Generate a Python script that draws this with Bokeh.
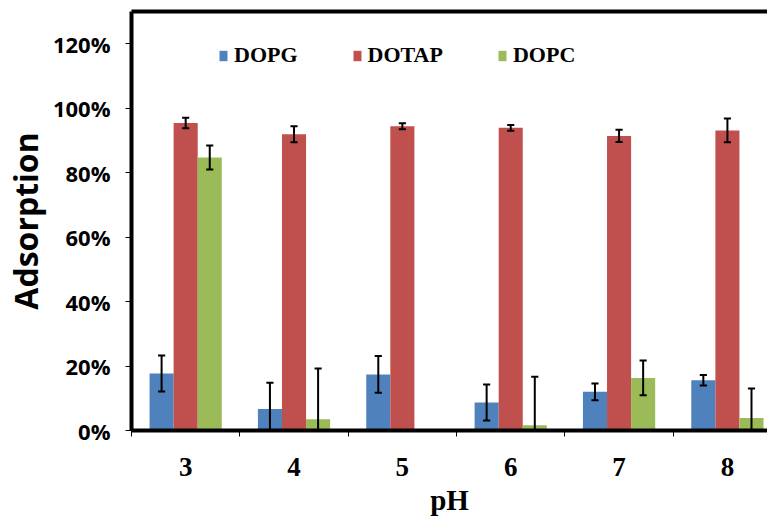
import numpy as np
from bokeh.plotting import figure
from bokeh.models import (Range1d, LinearAxis, FixedTicker, Legend, LegendItem,
                          NumeralTickFormatter)
from bokeh.embed import file_html
from bokeh.resources import INLINE

# ---- data ----
ph_labels = ["3", "4", "5", "6", "7", "8"]
series_names = ["DOPG", "DOTAP", "DOPC"]
dopg = [0.177, 0.067, 0.174, 0.087, 0.120, 0.156]
dopg_err = [0.056, 0.081, 0.057, 0.056, 0.026, 0.016]
dotap = [0.954, 0.919, 0.944, 0.939, 0.914, 0.931]
dotap_err = [0.016, 0.025, 0.009, 0.009, 0.019, 0.037]
dopc = [0.847, 0.035, 0.002, 0.016, 0.163, 0.039]
dopc_err = [0.037, 0.157, 0.0, 0.151, 0.054, 0.091]
y_ticks = [0.0, 0.2, 0.4, 0.6, 0.8, 1.0, 1.2]
colors = ["#4F81BD", "#C0504D", "#9BBB59"]

values = [dopg, dotap, dopc]
errors = [dopg_err, dotap_err, dopc_err]

n = len(ph_labels)
centers = np.arange(n) + 0.5
bar_w = 1 / 4.5
cap_half = 0.033

p = figure(frame_width=636, frame_height=419, output_backend="svg", toolbar_location=None,
           x_range=Range1d(0, 5.87), y_range=Range1d(0, 1.3),
           min_border_left=122, min_border_right=0, min_border_top=11,
           min_border_bottom=80, background_fill_color="white",
           border_fill_color="white")
p.outline_line_color = None
p.xgrid.visible = False
p.ygrid.visible = False

renderers = []
for k in range(3):
    xs = centers + (k - 1) * bar_w
    r = p.vbar(x=xs, top=values[k], width=bar_w, bottom=0,
               fill_color=colors[k], line_color=None)
    renderers.append(r)

for k in range(3):
    xs = centers + (k - 1) * bar_w
    v = np.array(values[k])
    e = np.array(errors[k])
    m = e > 0
    xm, vm, em = xs[m], v[m], e[m]
    p.segment(x0=xm, y0=vm - em, x1=xm, y1=vm + em, line_color="black", line_width=2)
    p.segment(x0=xm - cap_half, y0=vm + em, x1=xm + cap_half, y1=vm + em,
              line_color="black", line_width=2)
    p.segment(x0=xm - cap_half, y0=vm - em, x1=xm + cap_half, y1=vm - em,
              line_color="black", line_width=2)

# x axis
xa = p.xaxis[0]
xa.ticker = FixedTicker(ticks=list(centers), minor_ticks=list(np.arange(n + 1)))
xa.major_label_overrides = {float(c): lab for c, lab in zip(centers, ph_labels)}
xa.major_tick_out = 0
xa.major_tick_in = 0
xa.minor_tick_out = 6
xa.minor_tick_in = 0
xa.minor_tick_line_color = "black"
xa.axis_line_width = 4
xa.axis_line_color = "black"
xa.major_label_text_font = "Liberation Serif"
xa.major_label_text_font_style = "bold"
xa.major_label_text_font_size = "27px"
xa.major_label_text_color = "black"
xa.major_label_standoff = 21
xa.axis_label = "pH"
xa.axis_label_text_font = "Liberation Serif"
xa.axis_label_text_font_style = "bold"
xa.axis_label_text_font_size = "29px"
xa.axis_label_text_color = "black"
xa.axis_label_standoff = 5

# y axis
ya = p.yaxis[0]
ya.ticker = FixedTicker(ticks=y_ticks)
ya.formatter = NumeralTickFormatter(format="0%")
ya.minor_tick_line_color = None
ya.major_tick_out = 6
ya.major_tick_in = 0
ya.major_tick_line_color = "black"
ya.axis_line_width = 4
ya.axis_line_color = "black"
ya.major_label_text_font = "Open Sans"
ya.major_label_text_font_style = "bold"
ya.major_label_text_font_size = "22px"
ya.major_label_text_color = "black"
ya.major_label_standoff = 15
ya.axis_label = "Adsorption"
ya.axis_label_text_font = "Open Sans"
ya.axis_label_text_font_style = "bold"
ya.axis_label_text_font_size = "32px"
ya.axis_label_text_color = "black"
ya.axis_label_standoff = 3

# top border as an axis without ticks
top = LinearAxis(ticker=FixedTicker(ticks=[]), axis_line_width=4, axis_line_color="black",
                 major_tick_out=0, major_tick_in=0, minor_tick_out=0, minor_tick_in=0,
                 major_label_text_font_size="0px", major_label_standoff=0)
p.add_layout(top, "above")

legend = Legend(items=[LegendItem(label=series_names[k], renderers=[renderers[k]]) for k in range(3)],
                orientation="horizontal", location=(87, 362),
                glyph_width=10, glyph_height=13, label_standoff=6, spacing=54,
                padding=0, margin=0, border_line_color=None, background_fill_alpha=0,
                label_text_font="Liberation Serif", label_text_font_style="bold",
                label_text_font_size="22px", label_text_color="black")
p.add_layout(legend, "center")

open("out.html", "w").write(file_html(p, INLINE))
